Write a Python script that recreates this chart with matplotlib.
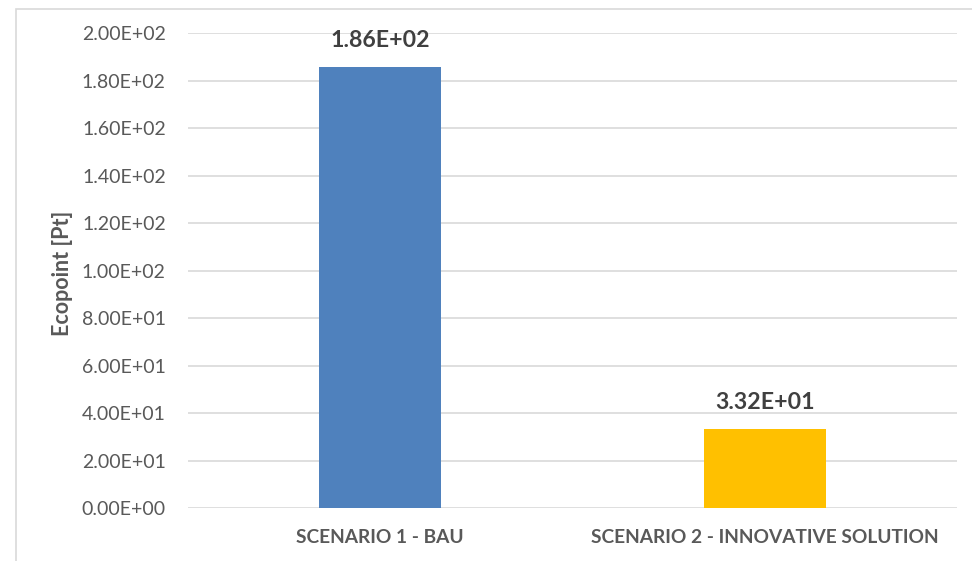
import matplotlib.pyplot as plt
from matplotlib.patches import Rectangle

categories = ['SCENARIO 1 - BAU', 'SCENARIO 2 - INNOVATIVE SOLUTION']
values = [185.7, 33.2]
value_labels = ['1.86E+02', '3.32E+01']
bar_colors = ['#4f81bd', '#ffc000']
yticks = [0, 20, 40, 60, 80, 100, 120, 140, 160, 180, 200]

plt.rcParams['font.family'] = ['Lato', 'DejaVu Sans']
text_gray = '#595959'

fig = plt.figure(figsize=(9.72, 5.61), dpi=100)
ax = fig.add_axes([0.1934, 0.0939, 0.7912, 0.8467])

# outer chart frame (like the Excel chart area border)
fig.patches.append(Rectangle((15.5 / 972, -0.1), 1.2, 1 - 8.5 / 561 + 0.1,
                             transform=fig.transFigure, fill=False,
                             edgecolor='#d9d9d9', linewidth=1.2))

x = range(len(categories))
ax.bar(x, values, width=0.317, color=bar_colors, zorder=3)
for xi, v, lab in zip(x, values, value_labels):
    ax.text(xi, v + 7, lab, ha='center', va='bottom', fontsize=16.7,
            fontweight='bold', color='#404040')

ax.set_xlim(-0.5, 1.5)
ax.set_ylim(0, 200)
ax.set_yticks(yticks)
ax.set_yticklabels(['%.2E' % t for t in yticks], fontsize=14, color=text_gray)
ax.set_xticks(list(x))
ax.set_xticklabels(categories, fontsize=13.8, fontweight='bold', color=text_gray)
ax.tick_params(axis='both', length=0)
ax.tick_params(axis='y', pad=16)
ax.tick_params(axis='x', pad=15)
ax.grid(axis='y', color='#d9d9d9', linewidth=1.2, zorder=0)
for s in ax.spines.values():
    s.set_visible(False)
ax.set_ylabel('Ecopoint [Pt]', fontsize=15.5, fontweight='bold', color=text_gray)
ax.yaxis.set_label_coords(-0.1495, 0.494)

plt.savefig('out.png', dpi=100)
